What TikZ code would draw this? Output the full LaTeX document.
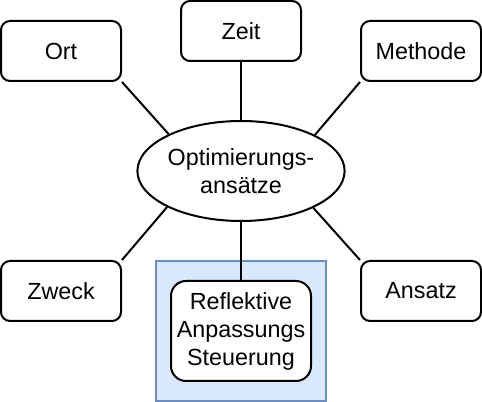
\documentclass[tikz,border=0pt]{standalone}
\usepackage{fontspec}
\setmainfont{Liberation Sans}
\usetikzlibrary{shapes.geometric}
\begin{document}
\begin{tikzpicture}[x=0.75pt,y=-0.75pt,
  txt/.style={font=\fontsize{17.5pt}{21pt}\selectfont, align=center},
  box/.style={draw, rounded corners=6.75pt, line width=1.5pt, minimum width=90pt, minimum height=45pt, inner sep=0pt, txt},
  conn/.style={line width=1.5pt}]
\useasboundingbox (0,0) rectangle (482,402);
\fill[fill={rgb,255:red,218;green,232;blue,252}, draw={rgb,255:red,108;green,142;blue,191}, line width=1.5pt] (156,261) rectangle (326,401);
\node[box] (ort) at (61,51) {Ort};
\node[box] (zeit) at (241,31) {Zeit};
\node[box] (methode) at (421,51) {Methode};
\node[box] (zweck) at (61,291) {Zweck};
\node[box] (ansatz) at (421,291) {Ansatz};
\node[box, rounded corners=11.25pt, minimum width=105pt, minimum height=75pt, fill=white] (refl) at (241,331) {Reflektive\\Anpassungs\\Steuerung};
\node[draw, ellipse, line width=1.5pt, minimum width=150pt, minimum height=75pt, inner sep=0pt, txt] (ell) at (241,171) {Optimierungs-\\ansätze};
\draw[conn] (ort.south east) -- (ell.153.4);
\draw[conn] (zeit.south) -- (ell.north);
\draw[conn] (methode.south west) -- (ell.26.6);
\draw[conn] (zweck.north east) -- (ell.206.6);
\draw[conn] (ansatz.north west) -- (ell.333.4);
\draw[conn] (ell.south) -- (refl.north);
\end{tikzpicture}
\end{document}
